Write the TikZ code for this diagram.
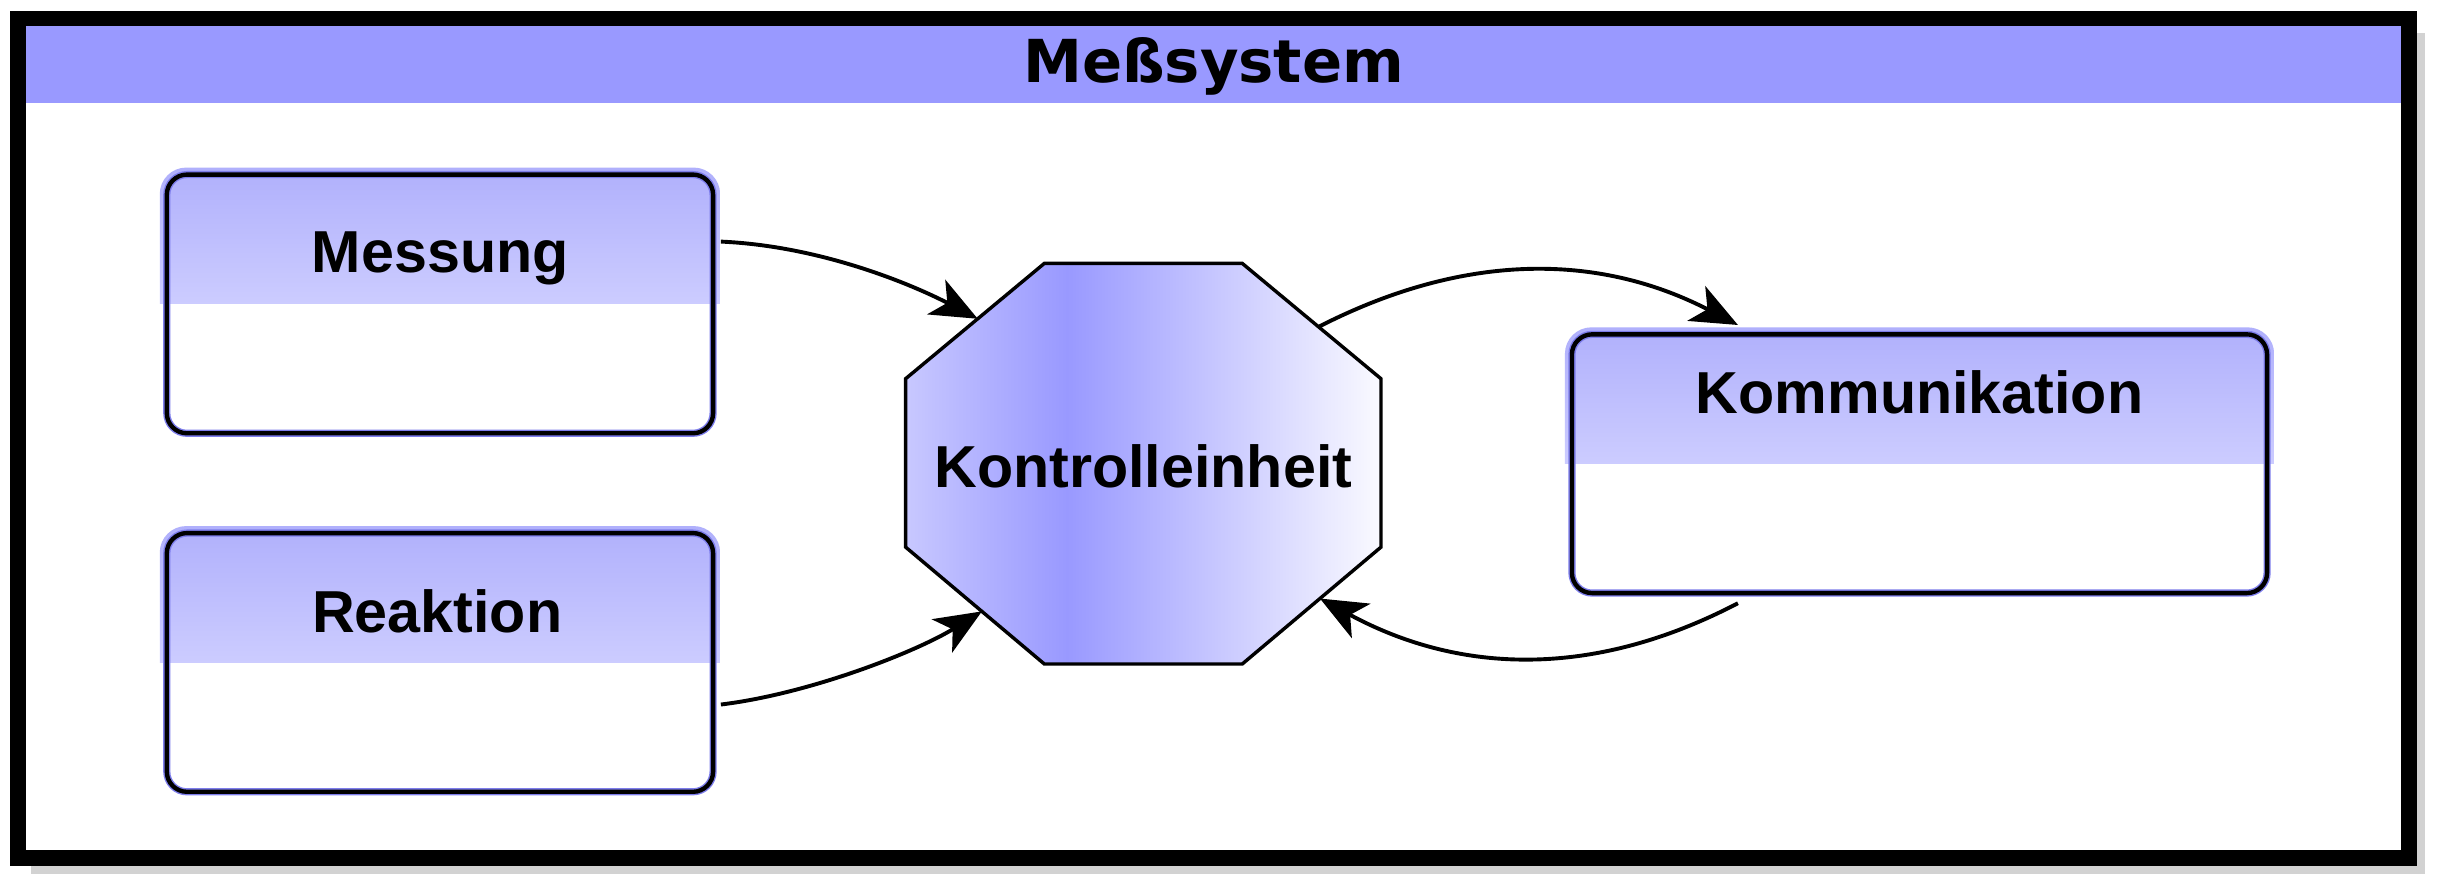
\documentclass[tikz,border=0pt]{standalone}
\usepackage{fontspec}
\usetikzlibrary{arrows.meta,calc}
\newfontfamily\boxfont{Liberation Sans}
\newfontfamily\titlefont{DejaVu Sans}
\definecolor{hdr}{RGB}{153,153,255}
\definecolor{hdtop}{RGB}{176,176,252}
\definecolor{hdbot}{RGB}{204,204,255}
\definecolor{fringe}{RGB}{125,125,235}
\definecolor{octL}{RGB}{200,200,255}
\definecolor{octM}{RGB}{153,153,255}
\definecolor{octR}{RGB}{250,250,255}
\definecolor{shadowc}{RGB}{210,210,210}
\pgfdeclarehorizontalshading{octsh}{100bp}{color(0bp)=(octL); color(25bp)=(octL); color(42bp)=(octM); color(75bp)=(octR); color(100bp)=(octR)}
\begin{document}
\begin{tikzpicture}[x=1pt,y=-1pt,
  mbox/.style={rectangle, minimum width=350.5pt, minimum height=166pt, inner sep=0pt, outer sep=0pt},
  lbl/.style={font=\boxfont\bfseries\fontsize{38}{40}\selectfont, anchor=base, inner sep=0pt},
  conn/.style={line width=2.5pt, -{Stealth[length=30pt,width=25pt,inset=8pt]}},
]
\useasboundingbox (0,0) rectangle (1568,572);
% frame
\fill[shadowc] (20,21) rectangle (1556,561);
\fill[white] (11.6,11.9) rectangle (1545.6,550.6);
\fill[hdr] (16.5,17) rectangle (1541,66.3);
\draw[line width=10pt] (11.6,11.9) rectangle (1545.6,550.6);
\node[anchor=base, inner sep=0pt, font=\titlefont\bfseries\fontsize{38}{40}\selectfont] (title) at (778.6,53) {Meßsystem};
% boxes
\node[mbox] (mess) at (282.25,195) {};
\node[mbox] (reak) at (282.25,425) {};
\node[mbox, minimum width=446pt] (komm) at (1231.5,297.5) {};
\foreach \n in {mess,reak,komm}{
  \fill[white, rounded corners=13pt] (\n.north west) rectangle (\n.south east);
  \begin{scope}
    \clip[rounded corners=17pt] ([shift={(-4.5pt,4.5pt)}]\n.north west) rectangle ([shift={(4.5pt,-4.5pt)}]\n.south east);
    \shade[top color=hdtop, bottom color=hdbot] ([shift={(-4.5pt,4.5pt)}]\n.north west) rectangle ([xshift=4.5pt]\n.east);
  \end{scope}
  \draw[fringe, line width=4.6pt, rounded corners=13pt] (\n.north west) rectangle (\n.south east);
  \draw[line width=2.8pt, rounded corners=13pt] (\n.north west) rectangle (\n.south east);
}
\node[lbl] (messT) at (282.5,175) {Messung};
\node[lbl] (reakT) at (280.5,406) {Reaktion};
\node[lbl] (kommT) at (1231.5,265) {Kommunikation};
% octagon
\coordinate (o1) at (670,169);
\coordinate (o2) at (797,169);
\coordinate (o3) at (886,243);
\coordinate (o4) at (886,351);
\coordinate (o5) at (797,426);
\coordinate (o6) at (670,426);
\coordinate (o7) at (581,351);
\coordinate (o8) at (581,243);
\shadedraw[shading=octsh, draw=black, line width=2.2pt] (o1) -- (o2) -- (o3) -- (o4) -- (o5) -- (o6) -- (o7) -- (o8) -- cycle;
\node[lbl] (ctrl) at (733.5,313) {Kontrolleinheit};
\coordinate (a1e) at ($(o8)!0.52!(o1)$);
\coordinate (a2e) at ($(o7)!0.55!(o6)$);
\coordinate (a3s) at ($(o2)!0.55!(o3)$);
\coordinate (a4e) at ($(o4)!0.44!(o5)$);
% connectors
\draw[conn] ([xshift=5pt,yshift=40pt]mess.east) .. controls (530,158) and (590,185) .. (a1e);
\draw[conn] ([xshift=5pt,yshift=-27pt]reak.east) .. controls (520,445) and (588,418) .. (a2e);
\draw[conn] (a3s) .. controls (939,162) and (1025,162) .. ([xshift=-116.5pt,yshift=6pt]komm.north);
\draw[conn] ([xshift=-116.5pt,yshift=-6.5pt]komm.south) .. controls (1025,434) and (939,434) .. (a4e);
\end{tikzpicture}
\end{document}
